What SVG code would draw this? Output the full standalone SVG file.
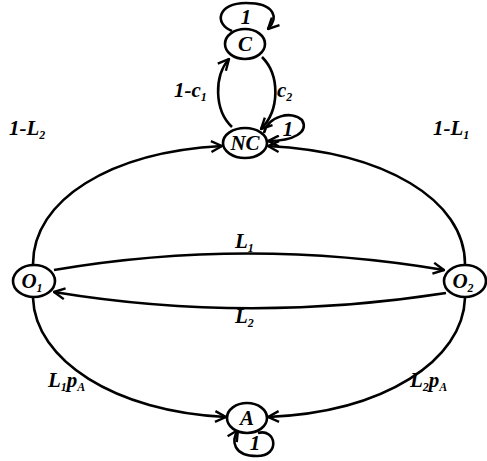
<svg xmlns="http://www.w3.org/2000/svg" width="487" height="461" viewBox="0 0 487 461">
<style>
.n{fill:#fff;stroke:#000;stroke-width:2.6}
.e{fill:none;stroke:#000;stroke-width:2.6}
.t{font-family:"Liberation Serif",serif;font-weight:bold;font-style:italic;font-size:21px;fill:#000}
.s{font-size:12px}
</style>
<defs>
<marker id="ar" viewBox="0 0 12 12" refX="11" refY="6" markerWidth="13" markerHeight="13" markerUnits="userSpaceOnUse" orient="auto">
<path d="M1,1 L11,6 L1,11" fill="none" stroke="#000" stroke-width="2.2"/>
</marker>
</defs>
<g id="connectors">
<path class="e" d="M232,127 C214,110 214,76 229,59" marker-end="url(#ar)"/>
<path class="e" d="M262,57 C280,75 280,110 261,129" marker-end="url(#ar)"/>
<path class="e" d="M232,31 C214,24 217,3 246,3 C275,3 279,18 268,29" marker-end="url(#ar)"/>
<path class="e" d="M264,133 C268,116 292,110 302,120 C309,132 294,141 268,141" marker-end="url(#ar)"/>
<path class="e" d="M33,264 C33,200 110,152 222,146" marker-end="url(#ar)"/>
<path class="e" d="M465,264 C465,200 385,152 268,146" marker-end="url(#ar)"/>
<path class="e" d="M54,270 Q248,237 444,270" marker-end="url(#ar)"/>
<path class="e" d="M446,293 Q248,324 54,292" marker-end="url(#ar)"/>
<path class="e" d="M33,298 C35,360 115,412 226,417" marker-end="url(#ar)"/>
<path class="e" d="M465,298 C463,360 385,412 268,417" marker-end="url(#ar)"/>
<path class="e" d="M258,433 C276,428 281,456 257,456 C233,456 231,441 238,430" marker-end="url(#ar)"/>
</g>
<g id="C"><ellipse class="n" cx="245" cy="44" rx="20" ry="15"/><text class="t" x="245" y="51" text-anchor="middle">C</text></g>
<g id="NC"><ellipse class="n" cx="245" cy="143" rx="22" ry="15"/><text class="t" x="245" y="150" text-anchor="middle" font-size="18">NC</text></g>
<g id="O1"><ellipse class="n" cx="34" cy="281" rx="21" ry="16"/><text class="t" x="32" y="288" text-anchor="middle">O<tspan class="s" dy="4">1</tspan></text></g>
<g id="O2"><ellipse class="n" cx="465" cy="281" rx="21" ry="16"/><text class="t" x="463" y="288" text-anchor="middle">O<tspan class="s" dy="4">2</tspan></text></g>
<g id="A"><ellipse class="n" cx="247" cy="418" rx="20" ry="15"/><text class="t" x="247" y="425" text-anchor="middle">A</text></g>
<g id="labels">
<text class="t" x="246" y="24" text-anchor="middle">1</text>
<text class="t" x="288" y="136" text-anchor="middle">1</text>
<text class="t" x="255" y="450" text-anchor="middle">1</text>
<text class="t" x="174" y="97">1-c<tspan class="s" dy="4">1</tspan></text>
<text class="t" x="277" y="97">c<tspan class="s" dy="4">2</tspan></text>
<text class="t" x="9" y="135">1-L<tspan class="s" dy="4">2</tspan></text>
<text class="t" x="433" y="135">1-L<tspan class="s" dy="4">1</tspan></text>
<text class="t" x="235" y="248">L<tspan class="s" dy="4">1</tspan></text>
<text class="t" x="235" y="323">L<tspan class="s" dy="4">2</tspan></text>
<text class="t" x="48" y="387">L<tspan class="s" dy="4">1</tspan><tspan dy="-4">p</tspan><tspan class="s" dy="4">A</tspan></text>
<text class="t" x="410" y="387">L<tspan class="s" dy="4">2</tspan><tspan dy="-4">p</tspan><tspan class="s" dy="4">A</tspan></text>
</g>
</svg>
